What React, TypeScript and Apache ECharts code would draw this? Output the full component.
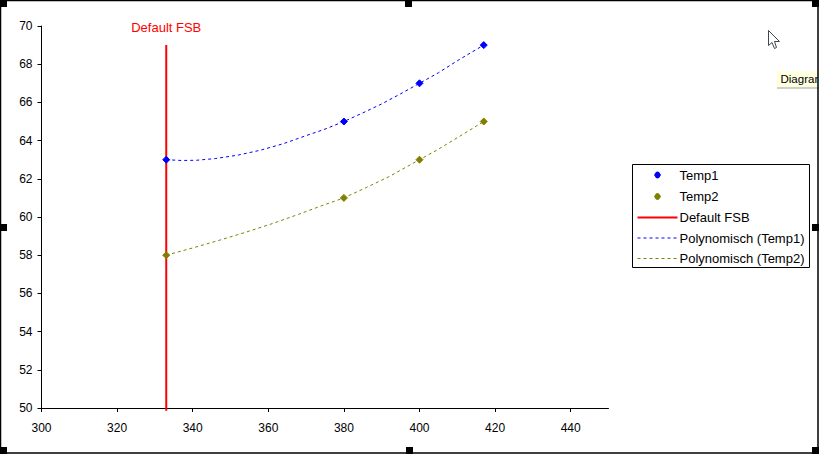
import React, { useEffect, useRef } from "react";
import * as echarts from "echarts";

const temp1Points = [[333, 63], [380, 65], [400, 67], [417, 69]];
const temp2Points = [[333, 58], [380, 61], [400, 63], [417, 65]];
const fsbLine = [[333, 69], [333, 49.85]];
const trend1 = [[333, 63], [337, 62.96], [341, 62.97], [346, 63.06], [352, 63.24], [358, 63.5], [364, 63.84], [370, 64.26], [375, 64.6], [380, 65], [385, 65.45], [390, 65.92], [395, 66.45], [400, 67], [405, 67.55], [410, 68.18], [417, 69]];
const trend2 = [[333, 58], [340, 58.38], [347, 58.78], [354, 59.2], [361, 59.65], [368, 60.14], [374, 60.58], [380, 61], [386, 61.55], [392, 62.12], [400, 63], [405, 63.55], [410, 64.15], [417, 65]];
const seriesNames = ["Temp1", "Temp2", "Default FSB", "Polynomisch (Temp1)", "Polynomisch (Temp2)"];
const xTickValues = [300, 320, 340, 360, 380, 400, 420, 440];
const FONT = "'Liberation Sans', Arial, sans-serif";
const BLUE = "#0000ff";
const OLIVE = "#808000";
const RED = "#ff0000";
const DASH = [3, 3];
const DOT_ICON = "path://M0 0L0 0M40 14L40 14M20 3.5L21.5 4L23.5 7L21.5 10L20 10.5L18.5 10L16.5 7L18.5 4Z";

const handles = [[0, 0], [405, 0], [812, 0], [0, 224], [812, 224], [0, 447], [406, 447], [812, 447]];

export default function App() {
  const ref = useRef<HTMLDivElement>(null);
  useEffect(() => {
    document.body.style.margin = "0";
    const chart = echarts.init(ref.current!, null, { renderer: "svg" });
    const dashed = (name: string, data: number[][], color: string) => ({
      name, type: "line", data, symbol: "none", smooth: false, z: 3,
      lineStyle: { color, width: 1, type: DASH }, itemStyle: { color },
    });
    const dots = (name: string, data: number[][], color: string) => ({
      name, type: "scatter", data, symbol: "diamond", symbolSize: 7, z: 5,
      itemStyle: { color, opacity: 1, borderColor: color, borderWidth: 1 },
    });
    chart.setOption({
      animation: false,
      backgroundColor: "#ffffff",
      textStyle: { fontFamily: FONT },
      grid: { left: 41.5, right: 210.5, top: 26, bottom: 46, containLabel: false },
      xAxis: {
        type: "value", min: 300, max: 450, interval: 20,
        splitLine: { show: false },
        axisLine: { onZero: false, lineStyle: { color: "#000", width: 1 } },
        axisTick: { length: 4, lineStyle: { color: "#000" }, customValues: xTickValues },
        axisLabel: { color: "#000", fontSize: 12, fontFamily: FONT, margin: 14, customValues: xTickValues },
      },
      yAxis: {
        type: "value", min: 50, max: 70, interval: 2,
        splitLine: { show: false },
        axisLine: { show: true, onZero: false, lineStyle: { color: "#000", width: 1 } },
        axisTick: { show: true, length: 4, lineStyle: { color: "#000" } },
        axisLabel: { color: "#000", fontSize: 12, fontFamily: FONT, margin: 9 },
      },
      legend: {
        orient: "vertical", left: 632.5, top: 164.5,
        data: [
          { name: seriesNames[0], icon: DOT_ICON, itemStyle: { color: BLUE, opacity: 1, borderWidth: 0 } },
          { name: seriesNames[1], icon: DOT_ICON, itemStyle: { color: OLIVE, opacity: 1, borderWidth: 0 } },
          { name: seriesNames[2], itemStyle: { opacity: 0 }, lineStyle: { color: RED, width: 2 } },
          { name: seriesNames[3], itemStyle: { opacity: 0 }, lineStyle: { color: BLUE, width: 1, type: DASH } },
          { name: seriesNames[4], itemStyle: { opacity: 0 }, lineStyle: { color: OLIVE, width: 1, type: DASH } },
        ],
        padding: [3.5, 5, 2.5, 4], itemGap: 7.5, itemWidth: 40, itemHeight: 14,
        borderColor: "#000", borderWidth: 1, backgroundColor: "#fff",
        textStyle: { color: "#000", fontSize: 13, fontFamily: FONT, padding: [0, 1, 0, -3] },
      },
      series: [
        dashed(seriesNames[3], trend1, BLUE),
        dashed(seriesNames[4], trend2, OLIVE),
        {
          name: seriesNames[2], type: "line", data: fsbLine, symbol: "circle", symbolSize: 0, showSymbol: true, clip: false, z: 4,
          lineStyle: { color: RED, width: 2 }, itemStyle: { color: RED },
          label: {
            show: true, position: "top", distance: 11, color: RED, fontSize: 13, fontFamily: FONT,
            formatter: (p: any) => (p.dataIndex === 0 ? seriesNames[2] : ""),
          },
        },
        dots(seriesNames[0], temp1Points, BLUE),
        dots(seriesNames[1], temp2Points, OLIVE),
      ],
      graphic: [
        { type: "rect", silent: true, z: 90, shape: { x: 777, y: 71, width: 42, height: 17 }, style: { fill: "#ffffe1", stroke: "none" } },
        { type: "line", silent: true, z: 90, shape: { x1: 777, y1: 88, x2: 819, y2: 88 }, style: { stroke: "#a0a0a0", lineWidth: 1 } },
        { type: "text", silent: true, z: 91, x: 780.5, y: 73, style: { text: "Diagrar", fill: "#000", fontSize: 11.5, fontFamily: FONT } },
        { type: "polygon", silent: true, z: 92, shape: { points: [[768.5, 30.5], [768.5, 45.5], [772, 42.5], [774.5, 48.5], [776.5, 47.5], [774.5, 41.5], [779.5, 41.5]] }, style: { fill: "#fff", stroke: "#3c4650", lineWidth: 1 } },
        { type: "rect", silent: true, z: 95, shape: { x: 0.5, y: 0.5, width: 817.5, height: 452.5 }, style: { fill: "none", stroke: "#000", lineWidth: 1.5 } },
        ...handles.map(([x, y]) => ({ type: "rect", silent: true, z: 96, shape: { x, y, width: 7, height: 7 }, style: { fill: "#000" } })),
      ],
    });
    return () => chart.dispose();
  }, []);
  return <div ref={ref} style={{ width: 819, height: 454, position: "absolute", left: 0, top: 0, overflow: "hidden" }} />;
}
